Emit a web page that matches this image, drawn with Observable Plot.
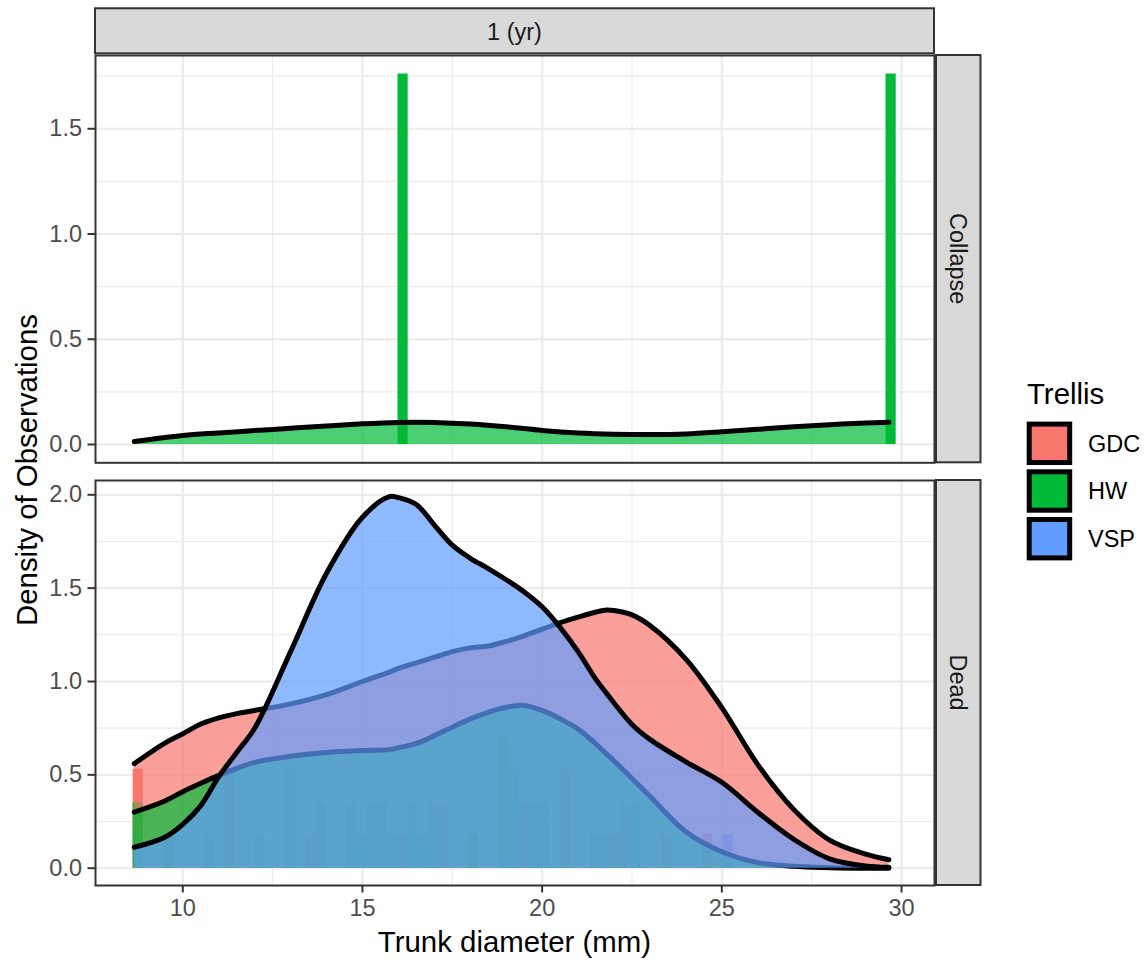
<!DOCTYPE html>
<html><head><meta charset="utf-8">
<script src="https://cdn.jsdelivr.net/npm/d3@7"></script>
<script src="https://cdn.jsdelivr.net/npm/@observablehq/plot@0.6"></script>
<style>
html,body{margin:0;padding:0;background:#fff;}
#root{position:relative;width:1148px;height:964px;overflow:hidden;font-family:"Liberation Sans",Arial,sans-serif;}
#root svg{position:absolute;left:0;}
</style></head><body><div id="root"></div>
<script>
// ---------- data ----------
const trellis = ["GDC", "HW", "VSP"];
const trellisColors = ["#F8766D", "#00BA38", "#619CFF"];
const facetCol = "1 (yr)";
const facetRows = ["Collapse", "Dead"];
const xTitle = "Trunk diameter (mm)";
const yTitle = "Density of Observations";
const legendTitle = "Trellis";
const xTicks = [10, 15, 20, 25, 30];
const xMinor = [12.5, 17.5, 22.5, 27.5];
const yTicksCollapse = [0, 0.5, 1, 1.5];
const yMinorCollapse = [0.25, 0.75, 1.25, 1.75];
const yTicksDead = [0, 0.5, 1, 1.5, 2];
const yMinorDead = [0.25, 0.75, 1.25, 1.75];
const binWidth = 0.283;

// Collapse panel (HW only)
const collapseDensX  = [8.65, 10, 11, 12, 13, 14, 15, 16, 16.5, 17, 18, 19, 20, 21, 22, 23, 24, 25, 26, 27, 28, 29, 29.65];
const collapseDensHW = [0.014, 0.043, 0.055, 0.066, 0.077, 0.088, 0.098, 0.105, 0.106, 0.105, 0.097, 0.084, 0.067, 0.055, 0.049, 0.047, 0.050, 0.060, 0.072, 0.084, 0.094, 0.102, 0.106];
const collapseBarX  = [16.13, 29.71];
const collapseBarHW = [1.76, 1.76];

// Dead panel densities
const deadDensX   = [8.65, 9.5, 10, 10.5, 11, 11.5, 12, 13, 14, 15, 15.75, 16, 16.5, 17, 17.5, 18, 18.5, 19, 19.5, 20, 20.5, 21, 21.5, 21.8, 22, 22.5, 23, 24, 25, 26, 27, 28, 29, 29.65];
const deadDensGDC = [0.56, 0.67, 0.72, 0.772, 0.805, 0.828, 0.845, 0.88, 0.93, 1.00, 1.05, 1.07, 1.10, 1.13, 1.16, 1.18, 1.19, 1.215, 1.245, 1.28, 1.315, 1.345, 1.372, 1.383, 1.38, 1.357, 1.30, 1.12, 0.86, 0.555, 0.315, 0.15, 0.075, 0.045];
const deadDensHW  = [0.30, 0.36, 0.41, 0.455, 0.497, 0.535, 0.567, 0.60, 0.62, 0.63, 0.635, 0.645, 0.668, 0.71, 0.755, 0.80, 0.835, 0.862, 0.872, 0.845, 0.80, 0.745, 0.665, 0.61, 0.575, 0.48, 0.385, 0.195, 0.088, 0.03, 0.01, 0.003, 0.0, 0.0];
const deadDensVSP = [0.112, 0.166, 0.235, 0.335, 0.49, 0.62, 0.75, 1.16, 1.58, 1.88, 1.99, 1.985, 1.948, 1.838, 1.73, 1.66, 1.605, 1.545, 1.48, 1.40, 1.29, 1.16, 1.01, 0.935, 0.885, 0.77, 0.69, 0.57, 0.46, 0.30, 0.155, 0.05, 0.012, 0.005];

// Dead panel histogram bars (bin centre, density, trellis)
const deadBarX     = [8.76, 8.76, 9.61, 10.74, 11.30, 12.15, 13.00, 13.56, 13.85, 14.70, 14.98, 15.26, 15.54, 15.83, 16.11, 16.39, 16.68, 16.96, 17.24, 18.09, 18.94, 19.22, 19.51, 19.79, 20.07, 20.64, 21.49, 21.77, 22.06, 22.34, 22.62, 23.47, 24.60, 25.17];
const deadBarH     = [0.53, 0.35, 0.18, 0.18, 0.53, 0.18, 0.53, 0.18, 0.35, 0.35, 0.18, 0.35, 0.35, 0.18, 0.18, 0.35, 0.18, 0.35, 0.35, 0.18, 0.70, 0.53, 0.35, 0.35, 0.35, 0.53, 0.18, 0.18, 0.18, 0.35, 0.35, 0.18, 0.18, 0.18];
const deadBarGroup = ["GDC","HW","HW","VSP","GDC","VSP","VSP","GDC","VSP","VSP","HW","VSP","VSP","VSP","GDC","VSP","HW","VSP","GDC","HW","HW","VSP","GDC","HW","VSP","GDC","HW","VSP","GDC","GDC","VSP","GDC","GDC","VSP"];

// ---------- build ----------
const font = '"Liberation Sans", Arial, sans-serif';
const colorOf = g => trellisColors[trellis.indexOf(g)];
const xDomain = [7.571, 30.918];
const rows = (xs, ys) => xs.map((x, i) => ({x, y: ys[i]}));

function gridMarks(yMajor, yMinor) {
  return [
    Plot.ruleY(yMinor, {stroke: "#EBEBEB", strokeWidth: 1.1}),
    Plot.ruleX(xMinor, {stroke: "#EBEBEB", strokeWidth: 1.1}),
    Plot.ruleY(yMajor, {stroke: "#EBEBEB", strokeWidth: 2.2}),
    Plot.ruleX(xTicks, {stroke: "#EBEBEB", strokeWidth: 2.2})
  ];
}
function barMark(data, fill) {
  return Plot.rect(data, {
    x1: d => d.x - binWidth / 2, x2: d => d.x + binWidth / 2,
    y1: d => 0, y2: d => d.h, fill, inset: 0
  });
}
function densityMarks(data, fill) {
  return [
    Plot.areaY(data, {x: "x", y: "y", fill, fillOpacity: 0.7, curve: "catmull-rom"}),
    Plot.lineY(data, {x: "x", y: "y", stroke: "black", strokeWidth: 5, curve: "catmull-rom"})
  ];
}
const axisYOpts = {tickSize: 7.5, tickPadding: 6, stroke: "#333333", strokeWidth: 2, fill: "#4D4D4D",
  fontSize: 23.5, tickFormat: d3.format(".1f"), label: null};

const root = document.getElementById("root");

// Collapse panel
const collapseBars = collapseBarX.map((x, i) => ({x, h: collapseBarHW[i]}));
const p1 = Plot.plot({
  width: 1148, height: 470,
  marginLeft: 95, marginRight: 214, marginTop: 55, marginBottom: 7.7,
  x: {domain: xDomain, axis: null},
  y: {domain: [-0.087, 1.848], label: null, axis: null},
  style: {fontFamily: font, background: "transparent", overflow: "visible"},
  marks: [
    ...gridMarks(yTicksCollapse, yMinorCollapse),
    barMark(collapseBars, colorOf("HW")),
    ...densityMarks(rows(collapseDensX, collapseDensHW), colorOf("HW")),
    Plot.frame({stroke: "#333333", strokeWidth: 2}),
    Plot.axisY(yTicksCollapse, axisYOpts)
  ]
});
p1.style.top = "0px";
root.appendChild(p1);

// Dead panel
const deadBars = deadBarX.map((x, i) => ({x, h: deadBarH[i], g: deadBarGroup[i]}));
const deadDens = {GDC: deadDensGDC, HW: deadDensHW, VSP: deadDensVSP};
const p2 = Plot.plot({
  width: 1148, height: 494,
  marginLeft: 95, marginRight: 214, marginTop: 10, marginBottom: 79,
  x: {domain: xDomain, label: null, axis: null},
  y: {domain: [-0.0927, 2.0766], label: null, axis: null},
  style: {fontFamily: font, background: "transparent", overflow: "visible"},
  marks: [
    ...gridMarks(yTicksDead, yMinorDead),
    ...trellis.map(g => barMark(deadBars.filter(d => d.g === g), colorOf(g))),
    ...trellis.flatMap(g => densityMarks(rows(deadDensX, deadDens[g]), colorOf(g))),
    Plot.frame({stroke: "#333333", strokeWidth: 2}),
    Plot.axisY(yTicksDead, axisYOpts),
    Plot.axisX(xTicks, {tickSize: 7.5, tickPadding: 6, stroke: "#333333", strokeWidth: 2, fill: "#4D4D4D",
      fontSize: 23.5, label: null})
  ]
});
p2.style.top = "470px";
root.appendChild(p2);

// Overlay: strips, titles, legend
const svg = d3.select(root).append("svg")
  .attr("width", 1148).attr("height", 964).style("top", "0px")
  .style("font-family", font);

// top strip
svg.append("rect").attr("x", 95).attr("y", 8.3).attr("width", 839).attr("height", 45)
  .attr("fill", "#D9D9D9").attr("stroke", "#333333").attr("stroke-width", 2);
svg.append("text").attr("x", 514.5).attr("y", 39.5).attr("text-anchor", "middle")
  .attr("font-size", 23.5).attr("fill", "#1A1A1A").text(facetCol);

// right strips
const stripBoxes = [[55, 407.3], [480, 405]];
facetRows.forEach((lab, i) => {
  const [y0, h] = stripBoxes[i];
  svg.append("rect").attr("x", 936).attr("y", y0).attr("width", 44.5).attr("height", h)
    .attr("fill", "#D9D9D9").attr("stroke", "#333333").attr("stroke-width", 2);
  svg.append("text").attr("transform", `translate(${958.2},${y0 + h / 2}) rotate(90)`)
    .attr("y", 8.4).attr("text-anchor", "middle").attr("font-size", 23.5)
    .attr("fill", "#1A1A1A").text(lab);
});

// axis titles
svg.append("text").attr("x", 514.5).attr("y", 952).attr("text-anchor", "middle")
  .attr("font-size", 29.4).attr("fill", "black").text(xTitle);
svg.append("text").attr("transform", "translate(36.5,470) rotate(-90)")
  .attr("text-anchor", "middle").attr("font-size", 29.4).attr("fill", "black").text(yTitle);

// legend
svg.append("text").attr("x", 1027).attr("y", 404).attr("font-size", 29.4).attr("fill", "black").text(legendTitle);
trellis.forEach((g, i) => {
  const cy = 443.3 + i * 47.7;
  svg.append("rect").attr("x", 1029.2).attr("y", cy - 19.2).attr("width", 40.5).attr("height", 38.4)
    .attr("fill", trellisColors[i]).attr("stroke", "black").attr("stroke-width", 5);
  svg.append("text").attr("x", 1088).attr("y", cy + 8.4).attr("font-size", 23.5).attr("fill", "black").text(g);
});
</script></body></html>
